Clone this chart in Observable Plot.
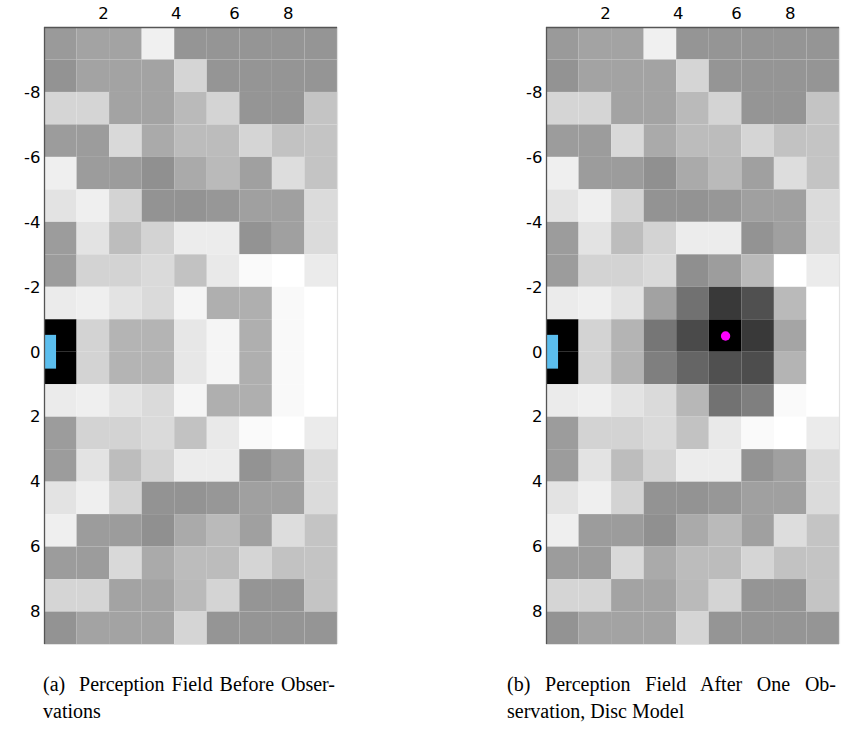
<!DOCTYPE html>
<html>
<head>
<meta charset="utf-8">
<script src="https://cdn.jsdelivr.net/npm/d3@7"></script>
<script src="https://cdn.jsdelivr.net/npm/@observablehq/plot@0.6"></script>
<style>
  html, body { margin: 0; padding: 0; background: #fff; }
  body { width: 856px; height: 732px; position: relative; overflow: hidden; }
  .panel { position: absolute; top: 0; }
  .panel svg text { font-family: "DejaVu Sans", sans-serif !important; font-size: 16.5px !important; fill: #000; }
  .cap { position: absolute; font-family: "Liberation Serif", "Times New Roman", serif; font-size: 20px; line-height: 27px; color: #000; }
  .cap .j { text-align: justify; text-align-last: justify; white-space: nowrap; }
</style>
</head>
<body>
<div id="pa" class="panel" style="left:0px"></div>
<div id="pb" class="panel" style="left:502px"></div>
<div class="cap" style="left:43px; top:671px; width:292px">
  <div class="j">(a)&nbsp; Perception Field Before Obser-</div>
  <div>vations</div>
</div>
<div class="cap" style="left:507px; top:671px; width:329px">
  <div class="j">(b) Perception Field After One Ob-</div>
  <div>servation, Disc Model</div>
</div>
<script>
// Grid: 9 columns (x 0..9) by 19 rows (y -10..9); values are gray levels (0 = black, 255 = white)
const yTop = -10;
const nCols = 9;
const fieldBefore = [
  [154, 163, 163, 240, 149, 149, 149, 149, 149],
  [147, 163, 163, 163, 213, 149, 149, 149, 149],
  [213, 213, 163, 163, 186, 212, 149, 149, 196],
  [156, 156, 217, 170, 188, 188, 213, 194, 196],
  [239, 156, 156, 144, 170, 186, 160, 221, 196],
  [227, 239, 211, 147, 147, 151, 160, 160, 219],
  [156, 227, 189, 211, 236, 236, 147, 160, 219],
  [156, 211, 211, 218, 194, 233, 250, 255, 235],
  [235, 239, 227, 218, 245, 175, 175, 249, 255],
  [0,   211, 180, 180, 231, 245, 175, 249, 255],
  [0,   211, 180, 180, 231, 245, 175, 249, 255],
  [235, 239, 227, 218, 245, 175, 175, 249, 255],
  [156, 211, 211, 218, 194, 233, 250, 255, 235],
  [156, 227, 189, 211, 236, 236, 147, 160, 219],
  [227, 239, 211, 147, 147, 151, 160, 160, 219],
  [239, 156, 156, 144, 170, 186, 160, 221, 196],
  [156, 156, 217, 170, 188, 188, 213, 194, 196],
  [213, 213, 163, 163, 186, 212, 149, 149, 196],
  [147, 163, 163, 163, 213, 149, 149, 149, 149]
];
const fieldAfter = [
  [154, 163, 163, 240, 149, 149, 149, 149, 149],
  [147, 163, 163, 163, 213, 149, 149, 149, 149],
  [213, 213, 163, 163, 186, 212, 149, 149, 196],
  [156, 156, 217, 170, 188, 188, 213, 194, 196],
  [239, 156, 156, 144, 170, 186, 160, 221, 196],
  [227, 239, 211, 147, 147, 151, 160, 160, 219],
  [156, 227, 189, 211, 236, 236, 147, 160, 219],
  [156, 211, 211, 218, 143, 157, 186, 255, 235],
  [235, 239, 227, 162, 113, 57,  80,  186, 255],
  [0,   211, 180, 118, 74,  0,   57,  165, 255],
  [0,   211, 180, 127, 101, 80,  77,  180, 255],
  [235, 239, 227, 218, 183, 114, 127, 250, 255],
  [156, 211, 211, 218, 194, 233, 250, 255, 235],
  [156, 227, 189, 211, 236, 236, 147, 160, 219],
  [227, 239, 211, 147, 147, 151, 160, 160, 219],
  [239, 156, 156, 144, 170, 186, 160, 221, 196],
  [156, 156, 217, 170, 188, 188, 213, 194, 196],
  [213, 213, 163, 163, 186, 212, 149, 149, 196],
  [147, 163, 163, 163, 213, 149, 149, 149, 149]
];
// Agent (blue) and observation (magenta)
const agent = [{x1: 0, x2: 0.37, y1: -0.52, y2: 0.52}];
const observation = [{x: 5.5, y: -0.5}];
// Tick labels
const xTickPos = [1.81, 4.05, 5.84, 7.49];
const xTickLabels = ["2", "4", "6", "8"];
const yTicks = [-8, -6, -4, -2, 0, 2, 4, 6, 8];

function toCells(rows) {
  const cells = [];
  rows.forEach((row, i) => row.forEach((g, j) => cells.push({x1: j, x2: j + 1, y1: yTop + i, y2: yTop + i + 1, g})));
  return cells;
}

function panel(rows, withDot) {
  const yBottom = yTop + rows.length;
  const marks = [
    Plot.rect(toCells(rows), {x1: "x1", x2: "x2", y1: "y1", y2: "y2", fill: "g"}),
    Plot.rect(agent, {x1: "x1", x2: "x2", y1: "y1", y2: "y2", fill: "#5BBEEE"}),
    Plot.ruleY([yBottom], {stroke: "#e2e2e2", strokeWidth: 1.2}),
    Plot.ruleX([nCols], {stroke: "#e2e2e2", strokeWidth: 1.2}),
    Plot.ruleY([yTop], {stroke: "#555", strokeWidth: 1.3}),
    Plot.ruleX([0], {stroke: "#555", strokeWidth: 1.3})
  ];
  if (withDot) marks.push(Plot.dot(observation, {x: "x", y: "y", r: 4.7, fill: "#ff00ff", stroke: "none"}));
  return Plot.plot({
    width: 350, height: 650,
    marginLeft: 44, marginRight: 13, marginTop: 27, marginBottom: 6,
    x: {domain: [0, nCols], ticks: xTickPos, tickFormat: d => xTickLabels[xTickPos.indexOf(d)], axis: "top", tickSize: 0, tickPadding: 9, label: null},
    y: {domain: [yTop, yBottom], reverse: true, ticks: yTicks, tickFormat: d => String(d), tickSize: 0, tickPadding: 4, label: null},
    color: {type: "linear", domain: [0, 255], range: ["#000000", "#ffffff"], interpolate: "rgb"},
    style: {fontFamily: "DejaVu Sans", fontSize: "16.5px", color: "#000", background: "#fff", overflow: "visible"},
    marks
  });
}

document.getElementById("pa").appendChild(panel(fieldBefore, false));
document.getElementById("pb").appendChild(panel(fieldAfter, true));
</script>
</body>
</html>
